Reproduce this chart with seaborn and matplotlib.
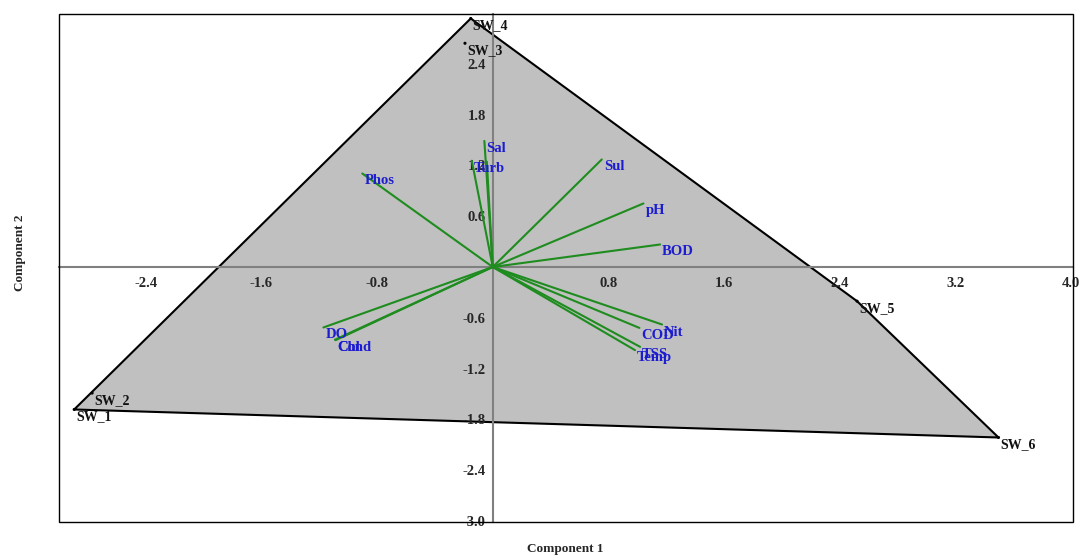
import numpy as np
import pandas as pd
import matplotlib
matplotlib.use("Agg")
import matplotlib.pyplot as plt
from matplotlib.patches import Rectangle
import seaborn as sns

# ---- data ----
samples = ["SW_1", "SW_2", "SW_3", "SW_4", "SW_5", "SW_6"]
pc1_scores = [-2.894, -2.77, -0.192, -0.152, 2.519, 3.497]
pc2_scores = [-1.684, -1.49, 2.644, 2.937, -0.404, -2.015]

variables = ["Phos", "Sal", "Turb", "", "Sul", "pH", "BOD", "DO", "Cond", "Chl",
             "Nit", "COD", "TSS", "Temp"]
load_x = [-0.902, -0.058, -0.145, -0.041, 0.754, 1.042, 1.157, -1.171, -1.091, -1.087,
          1.171, 1.014, 1.019, 0.984]
load_y = [1.105, 1.490, 1.256, 1.245, 1.271, 0.751, 0.266, -0.715, -0.859, -0.865,
          -0.680, -0.720, -0.944, -0.983]

x_ticks = [-2.4, -1.6, -0.8, 0.8, 1.6, 2.4, 3.2, 4.0]
y_ticks = [-3.0, -2.4, -1.8, -1.2, -0.6, 0.6, 1.2, 1.8, 2.4]

# ---- style ----
sns.set_style("white")
plt.rcParams["font.family"] = ["Liberation Serif", "DejaVu Serif"]
plt.rcParams["axes.unicode_minus"] = False

fig = plt.figure(figsize=(10.82, 5.57), dpi=100)
ax = fig.add_axes([0.0544, 0.0634, 0.937, 0.9115])
ax.set_axisbelow(False)

scores = pd.DataFrame({"sample": samples, "PC1": pc1_scores, "PC2": pc2_scores})


def convex_hull(pts):
    pts = sorted(set(pts))
    def cross(o, a, b):
        return (a[0] - o[0]) * (b[1] - o[1]) - (a[1] - o[1]) * (b[0] - o[0])
    lower, upper = [], []
    for p in pts:
        while len(lower) >= 2 and cross(lower[-2], lower[-1], p) <= 0:
            lower.pop()
        lower.append(p)
    for p in reversed(pts):
        while len(upper) >= 2 and cross(upper[-2], upper[-1], p) <= 0:
            upper.pop()
        upper.append(p)
    return lower[:-1] + upper[:-1]


hull = convex_hull(list(zip(pc1_scores, pc2_scores)))
hx = [p[0] for p in hull]
hy = [p[1] for p in hull]
ax.fill(hx, hy, facecolor="#c0c0c0", edgecolor="black", linewidth=1.5, zorder=1)

# loadings lines
rows = []
for i, (v, lx, ly) in enumerate(zip(variables, load_x, load_y)):
    rows.append({"id": i, "x": 0.0, "y": 0.0})
    rows.append({"id": i, "x": lx, "y": ly})
ld = pd.DataFrame(rows)
sns.lineplot(data=ld, x="x", y="y", units="id", estimator=None, sort=False,
             color="#1e8c1e", linewidth=1.5, legend=False, ax=ax, zorder=3)

for v, lx, ly in zip(variables, load_x, load_y):
    if v:
        ax.annotate(v, (lx, ly), xytext=(2, -1), textcoords="offset pixels",
                    ha="left", va="top", fontsize=10.5, fontweight="bold",
                    color="#1c1cd0", zorder=5)

# sample points
sns.scatterplot(data=scores, x="PC1", y="PC2", color="black", s=5,
                edgecolor="none", ax=ax, zorder=4, legend=False)
for s, px, py in zip(samples, pc1_scores, pc2_scores):
    ax.annotate(s, (px, py), xytext=(2, -1), textcoords="offset pixels",
                ha="left", va="top", fontsize=10, fontweight="bold",
                color="#111111", zorder=5)

# axes through the origin
ax.set_xlim(-3.0, 4.01)
ax.set_ylim(-3.01, 2.99)
for side in ["top", "right"]:
    ax.spines[side].set_visible(False)
ax.spines["left"].set_position(("data", 0))
ax.spines["bottom"].set_position(("data", 0))
for side in ["left", "bottom"]:
    ax.spines[side].set_color("#808080")
    ax.spines[side].set_linewidth(1.5)
    ax.spines[side].set_zorder(2)

ax.set_xticks(x_ticks)
ax.set_xticklabels([f"{t:.1f}" for t in x_ticks])
ax.set_yticks(y_ticks)
ax.set_yticklabels([f"{t:.1f}" for t in y_ticks])
ax.tick_params(axis="both", direction="out", length=3, width=1, color="#555555",
               labelsize=10.5, pad=2)
ax.tick_params(axis="x", pad=4)
for lab in ax.get_xticklabels() + ax.get_yticklabels():
    lab.set_fontweight("bold")
ax.set_xlabel("")
ax.set_ylabel("")

ax.add_patch(Rectangle((0, 0), 1, 1, transform=ax.transAxes, fill=False,
                       edgecolor="black", linewidth=1.0, clip_on=False, zorder=6))

fig.text(0.522, 0.0144, "Component 1", ha="center", va="center",
         fontsize=9.5, fontweight="bold")
fig.text(0.0185, 0.546, "Component 2", ha="center", va="center", rotation=90,
         fontsize=9.5, fontweight="bold")

fig.savefig("out.png", dpi=100)
